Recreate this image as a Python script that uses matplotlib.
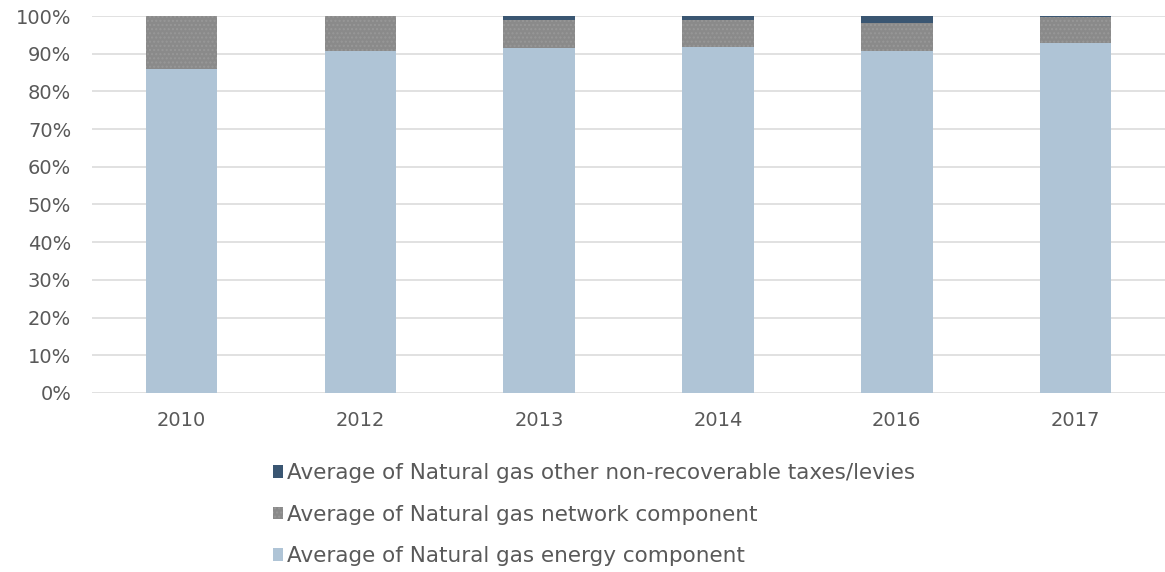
import matplotlib
matplotlib.use("Agg")
import matplotlib.pyplot as plt
from matplotlib.ticker import PercentFormatter
import numpy as np

years = ["2010", "2012", "2013", "2014", "2016", "2017"]
energy = [86.0, 90.7, 91.5, 91.7, 90.7, 92.8]
network = [14.0, 9.3, 7.4, 7.2, 7.5, 6.9]
taxes = [0.0, 0.0, 1.1, 1.1, 1.8, 0.3]

labels = [
    "Average of Natural gas energy component",
    "Average of Natural gas network component",
    "Average of Natural gas other non-recoverable taxes/levies",
]

plt.rcParams["font.family"] = ["DejaVu Sans"]
plt.rcParams["hatch.linewidth"] = 1.0

fig = plt.figure(figsize=(11.65, 5.72), dpi=100)
ax = fig.add_axes([0.079, 0.313, 0.921, 0.659])

x = np.arange(len(years))
w = 0.40
b1 = ax.bar(x, energy, w, color="#afc4d6", label=labels[0], zorder=3)
b2 = ax.bar(x, network, w, bottom=energy, color="#8a8a8a", hatch="....",
            edgecolor="#989898", linewidth=0, label=labels[1], zorder=3)
bottom2 = [e + n for e, n in zip(energy, network)]
b3 = ax.bar(x, taxes, w, bottom=bottom2, color="#3a5672", label=labels[2], zorder=3)

ax.set_xlim(-0.5, len(years) - 0.5)
ax.set_ylim(0, 100)
ax.set_yticks(np.arange(0, 101, 10))
ax.yaxis.set_major_formatter(PercentFormatter(decimals=0))
ax.set_xticks(x)
ax.set_xticklabels(years)
ax.grid(axis="y", color="#dcdcdc", linewidth=1.2, zorder=0)
for s in ax.spines.values():
    s.set_visible(False)
ax.tick_params(axis="both", length=0, labelsize=14, colors="#595959")
ax.tick_params(axis="y", pad=15)
ax.tick_params(axis="x", pad=13)

handles = [b3, b2, b1]
fig.legend(handles, [h.get_label() for h in handles], loc="upper left",
           bbox_to_anchor=(0.225, 0.209), frameon=False, fontsize=15.5,
           labelcolor="#595959", handlelength=0.45, handleheight=0.5,
           handletextpad=0.2, labelspacing=1.0, borderpad=0)

fig.savefig("out.png", dpi=100)
